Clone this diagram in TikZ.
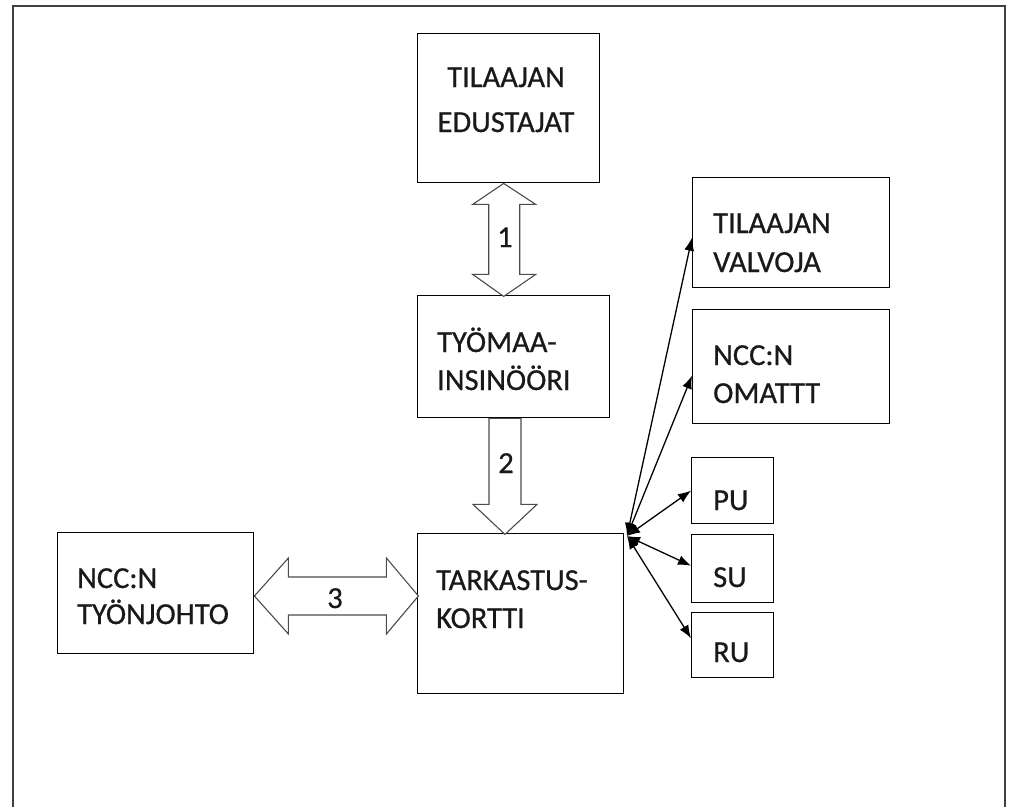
\documentclass[tikz,border=0pt]{standalone}
\usepackage{fontspec}
\setmainfont[FakeBold=0.6]{Carlito}
\usetikzlibrary{arrows.meta,calc}
\begin{document}
\begin{tikzpicture}[x=1pt,y=-1pt,
  box/.style={draw=black,line width=1.4pt,fill=white,inner sep=0pt,anchor=north west},
  lbl/.style={inner sep=0pt,font=\fontsize{30.5}{36}\selectfont,text=black!90},
  blk/.style={draw=black!70,line width=1.1pt,fill=white,line join=miter},
  conn/.style={draw=black,line width=1.3pt,{Latex[length=13pt,width=10pt]}-{Latex[length=13pt,width=10pt]}},
  frame/.style={draw=black!75,line width=1.6pt}]
\useasboundingbox (0,0) rectangle (1010,807);
\fill[white] (0,0) rectangle (1010,807);
\draw[frame] (13,807) -- (13,6) -- (1005,6) -- (1005,807);

% boxes
\node[box,minimum width=182pt,minimum height=149pt] (te) at (417,33) {};
\node[box,minimum width=192pt,minimum height=122pt] (ty) at (417,295) {};
\node[box,minimum width=206pt,minimum height=160pt] (tk) at (417,533) {};
\node[box,minimum width=196pt,minimum height=121pt] (nt) at (57,532) {};
\node[box,minimum width=197pt,minimum height=110pt] (tv) at (692,177) {};
\node[box,minimum width=197pt,minimum height=114pt] (no) at (692,309) {};
\node[box,minimum width=82pt,minimum height=66pt] (pu) at (691,457) {};
\node[box,minimum width=82pt,minimum height=68pt] (su) at (691,534) {};
\node[box,minimum width=82pt,minimum height=65pt] (ru) at (691,612) {};

% labels
\node[lbl,anchor=base] (te1) at (506,87) {TILAAJAN};
\node[lbl,anchor=base] (te2) at (506,132) {EDUSTAJAT};
\node[lbl,anchor=base west] (ty1) at (437,352) {TYÖMAA-};
\node[lbl,anchor=base west] (ty2) at (437,390) {INSINÖÖRI};
\node[lbl,anchor=base west] (tk1) at (436,590) {TARKASTUS-};
\node[lbl,anchor=base west] (tk2) at (436,628) {KORTTI};
\node[lbl,anchor=base west] (nt1) at (77,588) {NCC:N};
\node[lbl,anchor=base west] (nt2) at (77,624) {TYÖNJOHTO};
\node[lbl,anchor=base west] (tv1) at (713,233) {TILAAJAN};
\node[lbl,anchor=base west] (tv2) at (713,272) {VALVOJA};
\node[lbl,anchor=base west] (no1) at (713,365) {NCC:N};
\node[lbl,anchor=base west] (no2) at (713,403) {OMATTT};
\node[lbl,anchor=base west] (pu1) at (713,510) {PU};
\node[lbl,anchor=base west] (su1) at (713,587) {SU};
\node[lbl,anchor=base west] (ru1) at (713,662) {RU};

% block arrow 1 (double, vertical)
\draw[blk] ($(te.south)+(-5,0)$) -- ++(32,21) -- ++(-16,0) -- ++(0,70) -- ++(16,0)
  -- ++(-32,22) -- ++(-31,-22) -- ++(16,0) -- ++(0,-70) -- ++(-16,0) -- cycle;
\node[lbl,anchor=base] (n1) at (505,247) {1};

% block arrow 2 (down)
\draw[blk] ($(ty.south west)+(72,0)$) -- ++(0,86) -- ++(-16,0) -- ++(32,30)
  -- ++(32,-30) -- ++(-16,0) -- ++(0,-86) -- cycle;
\node[lbl,anchor=base] (n2) at (506,473) {2};

% block arrow 3 (double, horizontal)
\draw[blk] ($(nt.north east)+(0,64)$) -- ++(34,-38) -- ++(0,19) -- ++(98,0) -- ++(0,-19)
  -- ++(32,38) -- ++(-32,38) -- ++(0,-19) -- ++(-98,0) -- ++(0,19) -- cycle;
\node[lbl,anchor=base] (n3) at (335,608) {3};

% hub connectors
\coordinate (hub) at (627,536);
\draw[conn] (hub) -- ($(tv.west)+(0,5)$);
\draw[conn] (hub) -- ($(no.west)+(0,9)$);
\draw[conn] (hub) -- (pu.west);
\draw[conn] (hub) -- ($(su.west)+(0,-3)$);
\draw[conn] (hub) -- ($(ru.west)+(0,-7)$);
\end{tikzpicture}
\end{document}
